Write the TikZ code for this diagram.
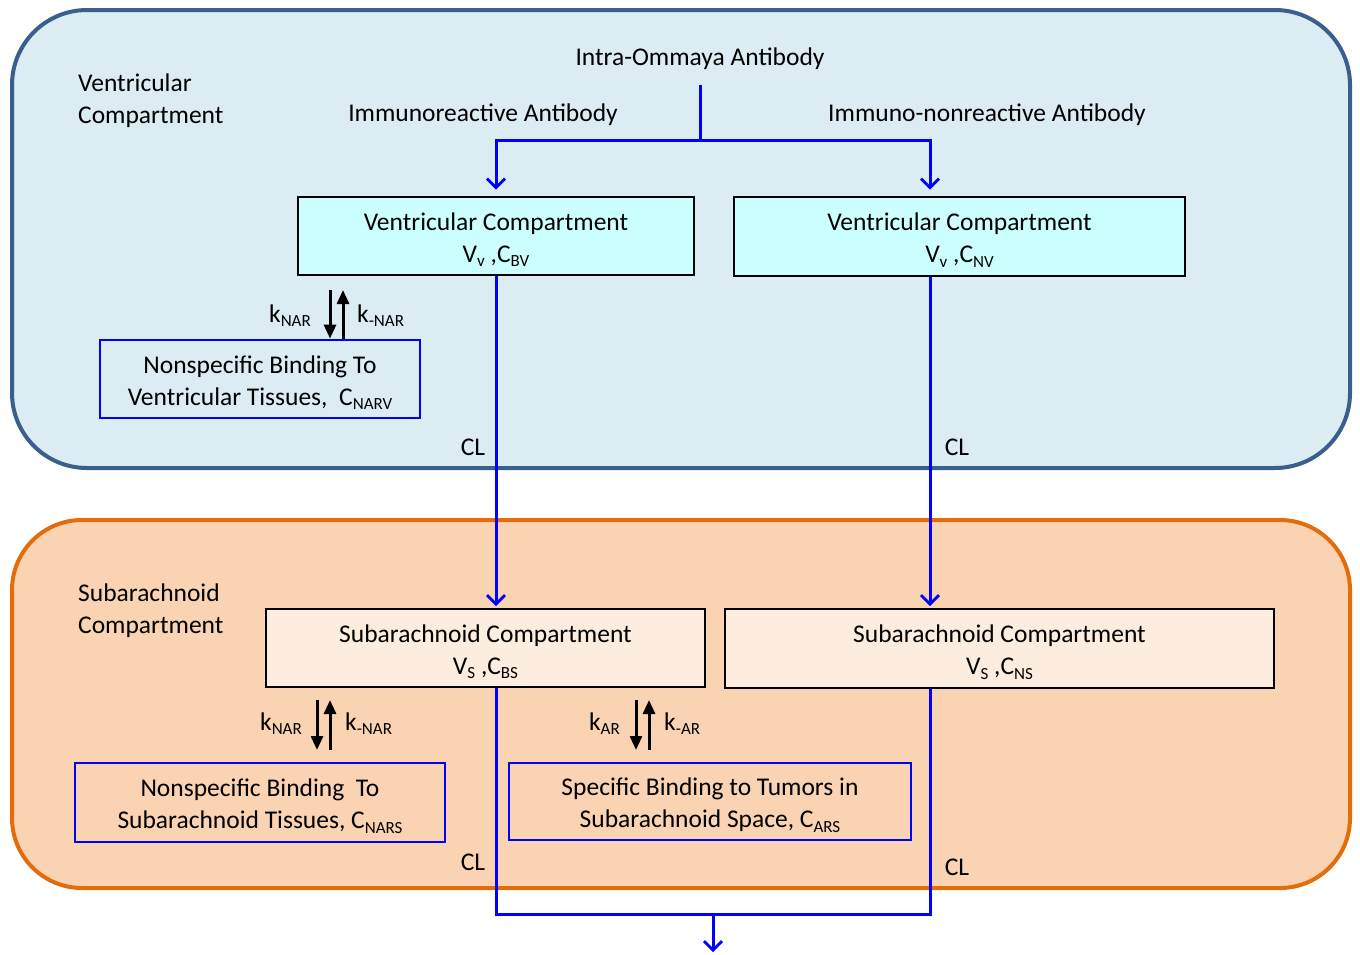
\documentclass[tikz,border=0pt]{standalone}
\usepackage{fontspec}
\setmainfont{Carlito}
\usetikzlibrary{arrows.meta,calc}
\definecolor{topfill}{RGB}{219,236,243}
\definecolor{topedge}{RGB}{58,95,140}
\definecolor{botfill}{RGB}{250,211,179}
\definecolor{botedge}{RGB}{228,108,10}
\definecolor{cyanbox}{RGB}{204,255,255}
\definecolor{peachbox}{RGB}{253,237,222}
\newcommand\lsub[1]{\raisebox{-0.35ex}{\fontsize{17}{17}\selectfont #1}}
\newcommand\tstrut{\rule{0pt}{25pt}}
\begin{document}
\begin{tikzpicture}[x=1pt,y=-1pt,
  every node/.style={font=\fontsize{25.5}{32}\selectfont, inner sep=0pt},
  region/.style={rounded corners=75pt, line width=4pt},
  cbox/.style={draw=black, line width=2.8pt, align=center},
  bbox/.style={draw=blue, line width=2.8pt, align=center},
  flow/.style={draw=blue, line width=3pt, -{Straight Barb[length=9pt,width=18pt,line width=2.8pt]}},
  bline/.style={draw=blue, line width=3pt},
  karrow/.style={draw=black, line width=3pt, -{Triangle[length=14pt,width=12pt]}},
  lbl/.style={align=left, anchor=west}
]
\useasboundingbox (0,0) rectangle (1360,954);
\fill[white] (0,0) rectangle (1360,954);
% regions
\draw[region, fill=topfill, draw=topedge] (12,10) rectangle (1350,468);
\draw[region, fill=botfill, draw=botedge, rounded corners=70pt] (12,520) rectangle (1350,888);

% region labels
\node[lbl] (vlab) at (78,101) {Ventricular\\Compartment};
\node[lbl] (slab) at (78,611) {Subarachnoid\\Compartment};

% top texts
\node (intra) at (700,59) {Intra-Ommaya Antibody};
\node (immr) at (483,115) {Immunoreactive Antibody};
\node (immn) at (987,115) {Immuno-nonreactive Antibody};

% boxes
\node[cbox, fill=cyanbox, minimum width=396pt, minimum height=78pt] (VCB) at (496,236) {\tstrut Ventricular Compartment\\V\lsub{v} ,C\lsub{BV}};
\node[cbox, fill=cyanbox, minimum width=451pt, minimum height=79pt] (VCN) at (959.5,236.5) {\tstrut Ventricular Compartment\\V\lsub{v} ,C\lsub{NV}};
\node[bbox, minimum width=320pt, minimum height=78pt] (NSV) at (260,379) {\tstrut Nonspecific Binding To\\Ventricular Tissues,\ \ C\lsub{NARV}};
\node[cbox, fill=peachbox, minimum width=439pt, minimum height=78pt] (SCB) at (485.5,648) {\tstrut Subarachnoid Compartment\\V\lsub{S} ,C\lsub{BS}};
\node[cbox, fill=peachbox, minimum width=549pt, minimum height=79pt] (SCN) at (999.5,648.5) {\tstrut Subarachnoid Compartment\\V\lsub{S} ,C\lsub{NS}};
\node[bbox, minimum width=370pt, minimum height=79pt] (NSS) at (260,802.5) {\tstrut Nonspecific Binding\ \ To\\Subarachnoid Tissues, C\lsub{NARS}};
\node[bbox, minimum width=402pt, minimum height=77pt] (SBT) at (710,801.5) {\tstrut Specific Binding to Tumors in\\Subarachnoid Space, C\lsub{ARS}};

% flow coordinates
\coordinate (src) at (700,85);
\coordinate (split) at (700,140);
\coordinate (xL) at (496,0);
\coordinate (xR) at (930,0);
\coordinate (bot) at (0,914);
\coordinate (merge) at (713,914);
\coordinate (out) at (713,952);

\draw[bline] (src) -- (split);
\draw[flow, shorten >=6pt] (split) -| (VCB.north);
\draw[flow, shorten >=6pt] (split) -| (xR |- VCN.north);
\draw[flow, shorten >=1.5pt] (VCB.south) -- (xL |- SCB.north);
\draw[flow, shorten >=1.5pt] (xR |- VCN.south) -- (xR |- SCN.north);
\draw[bline] (xL |- SCB.south) -- (xL |- bot) -- (xR |- bot) -- (xR |- SCN.south);
\draw[flow] (merge) -- (out);

% CL labels
\node (cl1) at (473,447) {CL};
\node (cl2) at (957,447) {CL};
\node (cl3) at (473,862) {CL};
\node (cl4) at (957,867) {CL};

% k arrows top
\coordinate (ka) at (330,290);
\coordinate (kb) at (343,290);
\draw[karrow] (ka) -- (ka |- NSV.north);
\draw[karrow] (kb |- NSV.north) -- (kb);
\node[anchor=base east] (k1) at (311,322) {k\lsub{NAR}};
\node[anchor=base west] (k2) at (357,322) {k\lsub{-NAR}};

% k arrows bottom left
\coordinate (kc) at (317,700);
\coordinate (kc2) at (317,750);
\coordinate (kd) at (330,700);
\coordinate (kd2) at (330,750);
\draw[karrow] (kc) -- (kc2);
\draw[karrow] (kd2) -- (kd);
\node[anchor=base east] (k3) at (302,730) {k\lsub{NAR}};
\node[anchor=base west] (k4) at (345,730) {k\lsub{-NAR}};

% k arrows tumor
\coordinate (ke) at (636,700);
\coordinate (ke2) at (636,750);
\coordinate (kf) at (649,700);
\coordinate (kf2) at (649,750);
\draw[karrow] (ke) -- (ke2);
\draw[karrow] (kf2) -- (kf);
\node[anchor=base east] (k5) at (620,730) {k\lsub{AR}};
\node[anchor=base west] (k6) at (664,730) {k\lsub{-AR}};
\end{tikzpicture}
\end{document}
